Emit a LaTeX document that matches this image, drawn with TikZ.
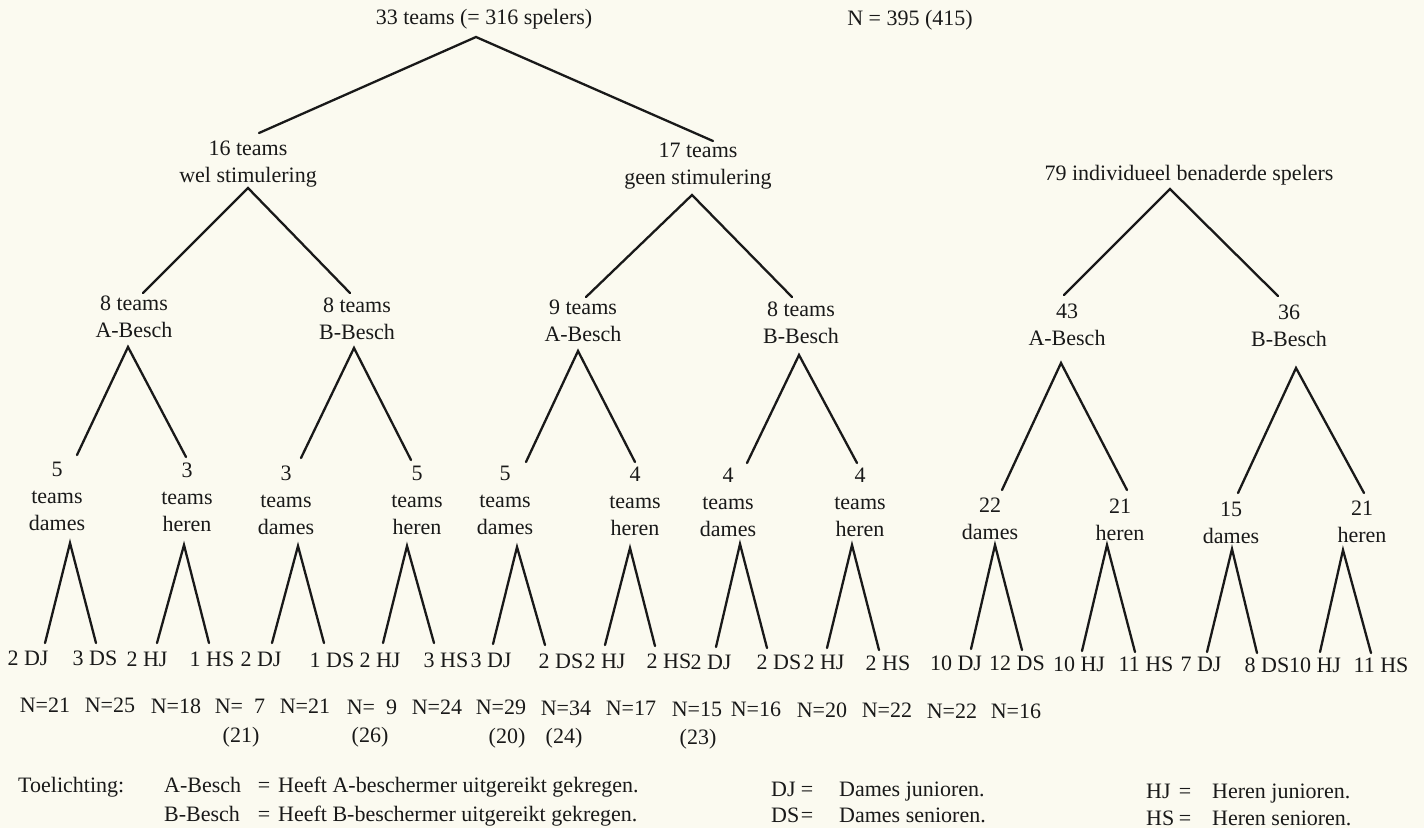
\documentclass[tikz,border=0pt]{standalone}
\usepackage{fontspec}
\setmainfont{Liberation Serif}
\definecolor{paper}{RGB}{251,250,240}
\definecolor{ink}{RGB}{25,25,25}
\begin{document}
\begin{tikzpicture}[x=1pt,y=-1pt,
  txt/.style={inner sep=0pt, font=\fontsize{22}{27}\selectfont, text=ink},
  one/.style={txt, text height=15pt, text depth=5pt},
  multi/.style={txt, align=center},
  edge/.style={draw=ink, line width=2.3pt, line cap=round}]
\fill[paper] (0,0) rectangle (1424,828);
\useasboundingbox (0,0) rectangle (1424,828);

% ---------- top ----------
\node[one] (root) at (484,19) {33 teams (= 316 spelers)};
\node[one] (ntot) at (910,20) {N = 395 (415)};

% ---------- level 1 ----------
\node[multi] (wel) at (248,164) {16 teams\\wel stimulering};
\node[multi] (geen) at (698,166) {17 teams\\geen stimulering};
\node[one] (indiv) at (1189,175) {79 individueel benaderde spelers};

% ---------- level 2 ----------
\node[multi] (wA) at (134,317) {8 teams\\A-Besch};
\node[multi] (wB) at (357,319) {8 teams\\B-Besch};
\node[multi] (gA) at (583,321) {9 teams\\A-Besch};
\node[multi] (gB) at (801,323) {8 teams\\B-Besch};
\node[multi] (iA) at (1067,325) {43\\A-Besch};
\node[multi] (iB) at (1289,326) {36\\B-Besch};

% ---------- level 3 ----------
\node[multi] (wAd) at (57,496) {5\\teams\\dames};
\node[multi] (wAh) at (187,497) {3\\teams\\heren};
\node[multi] (wBd) at (286,500) {3\\teams\\dames};
\node[multi] (wBh) at (417,500) {5\\teams\\heren};
\node[multi] (gAd) at (505,500) {5\\teams\\dames};
\node[multi] (gAh) at (635,501) {4\\teams\\heren};
\node[multi] (gBd) at (728,502) {4\\teams\\dames};
\node[multi] (gBh) at (860,502) {4\\teams\\heren};
\node[multi] (iAd) at (990,519) {22\\dames};
\node[multi] (iAh) at (1120,520) {21\\heren};
\node[multi] (iBd) at (1231,523) {15\\dames};
\node[multi] (iBh) at (1362,522) {21\\heren};

% ---------- connectors ----------
\coordinate (rootA) at (476,37);  \coordinate (rootL) at (259,133); \coordinate (rootR) at (713,141);
\draw[edge] (rootL) -- (rootA) -- (rootR);
\coordinate (welA) at (248,188);  \coordinate (welL) at (143,293);  \coordinate (welR) at (350,293);
\draw[edge] (welL) -- (welA) -- (welR);
\coordinate (geenA) at (692,195); \coordinate (geenL) at (586,297); \coordinate (geenR) at (792,297);
\draw[edge] (geenL) -- (geenA) -- (geenR);
\coordinate (indA) at (1170,189); \coordinate (indL) at (1064,295); \coordinate (indR) at (1278,296);
\draw[edge] (indL) -- (indA) -- (indR);

\coordinate (wAA) at (128,347); \coordinate (wAL) at (77,455);  \coordinate (wAR) at (186,457);
\draw[edge] (wAL) -- (wAA) -- (wAR);
\coordinate (wBA) at (354,348); \coordinate (wBL) at (301,458); \coordinate (wBR) at (411,460);
\draw[edge] (wBL) -- (wBA) -- (wBR);
\coordinate (gAA) at (578,351); \coordinate (gAL) at (526,462); \coordinate (gAR) at (635,462);
\draw[edge] (gAL) -- (gAA) -- (gAR);
\coordinate (gBA) at (799,355); \coordinate (gBL) at (747,463); \coordinate (gBR) at (857,463);
\draw[edge] (gBL) -- (gBA) -- (gBR);
\coordinate (iAA) at (1061,363); \coordinate (iAL) at (1002,490); \coordinate (iAR) at (1127,490);
\draw[edge] (iAL) -- (iAA) -- (iAR);
\coordinate (iBA) at (1296,368); \coordinate (iBL) at (1238,493); \coordinate (iBR) at (1364,493);
\draw[edge] (iBL) -- (iBA) -- (iBR);

\foreach \n/\ax/\ay/\lx/\ly/\rx/\ry in {
  1/70/543/45/643/96/643,
  2/184/545/157/643/209/643,
  3/298/546/272/643/324/643,
  4/407/546/383/643/434/643,
  5/517/547/493/644/545/645,
  6/630/548/605/645/655/646,
  7/740/544/716/647/767/648,
  8/852/545/827/648/879/650,
  9/995/545/971/649/1022/650,
  10/1107/545/1082/651/1135/652,
  11/1232/549/1207/652/1257/653,
  12/1343/550/1320/652/1371/653}{
  \coordinate (tA\n) at (\ax,\ay);
  \coordinate (tL\n) at (\lx,\ly);
  \coordinate (tR\n) at (\rx,\ry);
  \draw[edge] (tL\n) -- (tA\n) -- (tR\n);
}

% ---------- leaves ----------
\foreach \x/\y/\t [count=\i] in {
  28/660/2 DJ, 95/660/3 DS, 147/661/2 HJ, 212/661/1 HS,
  261/661/2 DJ, 332/662/1 DS, 380/662/2 HJ, 446/662/3 HS,
  491/662/3 DJ, 561/663/2 DS, 605/663/2 HJ, 669/663/2 HS,
  711/664/2 DJ, 779/664/2 DS, 824/664/2 HJ, 888/665/2 HS,
  956/665/10 DJ, 1017/665/12 DS, 1079/666/10 HJ, 1146/666/11 HS,
  1201/666/7 DJ, 1267/667/8 DS, 1315/667/10 HJ, 1381/667/11 HS}{
  \node[one] (leaf\i) at (\x,\y) {\t};
}

% ---------- N row ----------
\foreach \x/\y/\t [count=\i] in {
  45/707/21, 110/707/25, 176/708/18, 240/708/\hphantom{2}7,
  305/708/21, 372/709/\hphantom{2}9, 437/709/24, 501/709/29,
  566/710/34, 631/710/17, 697/711/15, 756/711/16,
  822/712/20, 887/712/22, 952/713/22, 1016/713/16}{
  \node[one] (nn\i) at (\x,\y) {N=\t};
}
\node[one] (p1) at (241,737) {(21)};
\node[one] (p2) at (370,737) {(26)};
\node[one] (p3) at (507,738) {(20)};
\node[one] (p4) at (564,738) {(24)};
\node[one] (p5) at (698,739) {(23)};

% ---------- legend ----------
\node[one, anchor=west] (toel) at (18,787) {Toelichting:};
\node[one, anchor=west] (lgA) at (164,787) {A-Besch};
\node[one] (lgAe) at (264,787) {=};
\node[one, anchor=west] (lgAt) at (278,787) {Heeft A-beschermer uitgereikt gekregen.};
\node[one, anchor=west] (lgB) at (164,816) {B-Besch};
\node[one] (lgBe) at (264,816) {=};
\node[one, anchor=west] (lgBt) at (278,816) {Heeft B-beschermer uitgereikt gekregen.};
\node[one, anchor=west] (lgDJ) at (771,791) {DJ};
\node[one] (lgDJe) at (807,791) {=};
\node[one, anchor=west] (lgDJt) at (839,791) {Dames junioren.};
\node[one, anchor=west] (lgDS) at (771,817) {DS};
\node[one] (lgDSe) at (807,817) {=};
\node[one, anchor=west] (lgDSt) at (839,817) {Dames senioren.};
\node[one, anchor=west] (lgHJ) at (1146,793) {HJ};
\node[one] (lgHJe) at (1185,793) {=};
\node[one, anchor=west] (lgHJt) at (1212,793) {Heren junioren.};
\node[one, anchor=west] (lgHS) at (1146,820) {HS};
\node[one] (lgHSe) at (1185,820) {=};
\node[one, anchor=west] (lgHSt) at (1212,820) {Heren senioren.};
\end{tikzpicture}
\end{document}
